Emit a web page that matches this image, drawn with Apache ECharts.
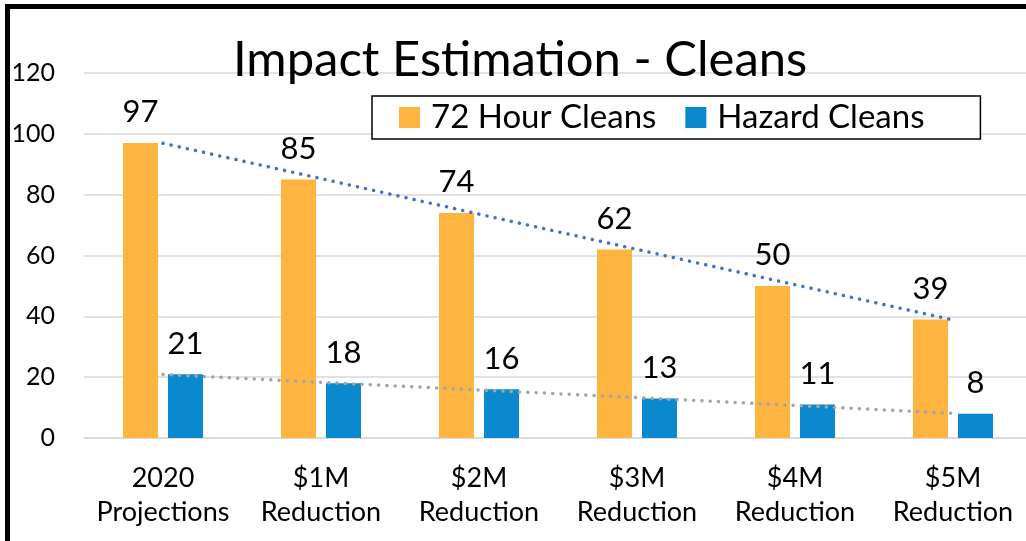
<!DOCTYPE html>
<html>
<head>
<meta charset="utf-8">
<script src="https://cdn.jsdelivr.net/npm/echarts@6/dist/echarts.min.js"></script>
<style>
  html, body { margin: 0; padding: 0; background: #fff; overflow: hidden; }
  #chart { width: 1040px; height: 541px; }
</style>
</head>
<body>
<div id="chart"></div>
<script>
// categories and values
const categories = ['2020\nProjections', '$1M\nReduction', '$2M\nReduction', '$3M\nReduction', '$4M\nReduction', '$5M\nReduction'];
const cleans72 = [97, 85, 74, 62, 50, 39];
const hazard = [21, 18, 16, 13, 11, 8];
// dotted trend lines, read at each category centre
const trend72 = [96.9, 85.3, 73.6, 62.0, 50.4, 38.8];
const trendHazard = [20.9, 18.3, 15.8, 13.3, 10.7, 8.1];
const yTicks = [0, 20, 40, 60, 80, 100, 120];

const font = 'Lato';
const chart = echarts.init(document.getElementById('chart'));

chart.setOption({
  animation: false,
  textStyle: { fontFamily: font },
  graphic: [
    {
      type: 'rect',
      silent: true,
      shape: { x: 7.5, y: 6.5, width: 1100, height: 700 },
      style: { fill: 'none', stroke: '#000', lineWidth: 5 }
    }
  ],
  title: {
    text: 'Impact Estimation - Cleans',
    left: 233,
    top: 36,
    padding: 0,
    textStyle: { fontFamily: font, fontSize: 49, fontWeight: 'normal', color: '#000' }
  },
  legend: {
    data: ['72 Hour Cleans', 'Hazard Cleans'],
    left: 372,
    top: 96,
    padding: [5, 56, 5, 27],
    borderColor: '#000',
    borderWidth: 1.5,
    backgroundColor: '#fff',
    icon: 'rect',
    itemWidth: 21,
    itemHeight: 21,
    itemGap: 29,
    textStyle: { fontFamily: font, fontSize: 33, color: '#000', padding: [0, 0, 0, 6] }
  },
  grid: { left: 84, width: 948, top: 73, bottom: 103 },
  xAxis: {
    type: 'category',
    data: categories,
    axisLine: { lineStyle: { color: '#d9d9d9', width: 1.5 } },
    axisTick: { show: false },
    axisLabel: { interval: 0, fontFamily: font, fontSize: 27, lineHeight: 34, color: '#000', margin: 23 }
  },
  yAxis: {
    type: 'value',
    min: yTicks[0],
    max: yTicks[yTicks.length - 1],
    interval: 20,
    axisLine: { show: false },
    axisTick: { show: false },
    splitLine: { lineStyle: { color: '#d9d9d9', width: 1.5 } },
    axisLabel: { fontFamily: font, fontSize: 25, color: '#000', margin: 29 }
  },
  series: [
    {
      name: '72 Hour Cleans',
      type: 'bar',
      data: cleans72,
      barWidth: 35,
      barGap: '28.6%',
      itemStyle: { color: '#FDB441' },
      label: { show: true, position: 'top', distance: 15, fontFamily: font, fontSize: 31, color: '#000' }
    },
    {
      name: 'Hazard Cleans',
      type: 'bar',
      data: hazard,
      barWidth: 35,
      itemStyle: { color: '#0A89CF' },
      label: { show: true, position: 'top', distance: 15, fontFamily: font, fontSize: 31, color: '#000' }
    },
    {
      name: 'trend 72',
      type: 'line',
      data: trend72,
      symbol: 'none',
      silent: true,
      z: 5,
      lineStyle: { color: '#4472C4', width: 3.5, type: [0.1, 8.2], cap: 'round' }
    },
    {
      name: 'trend hazard',
      type: 'line',
      data: trendHazard,
      symbol: 'none',
      silent: true,
      z: 5,
      lineStyle: { color: '#A5A5A5', width: 3.5, type: [0.1, 8.2], cap: 'round' }
    }
  ]
});
</script>
</body>
</html>
